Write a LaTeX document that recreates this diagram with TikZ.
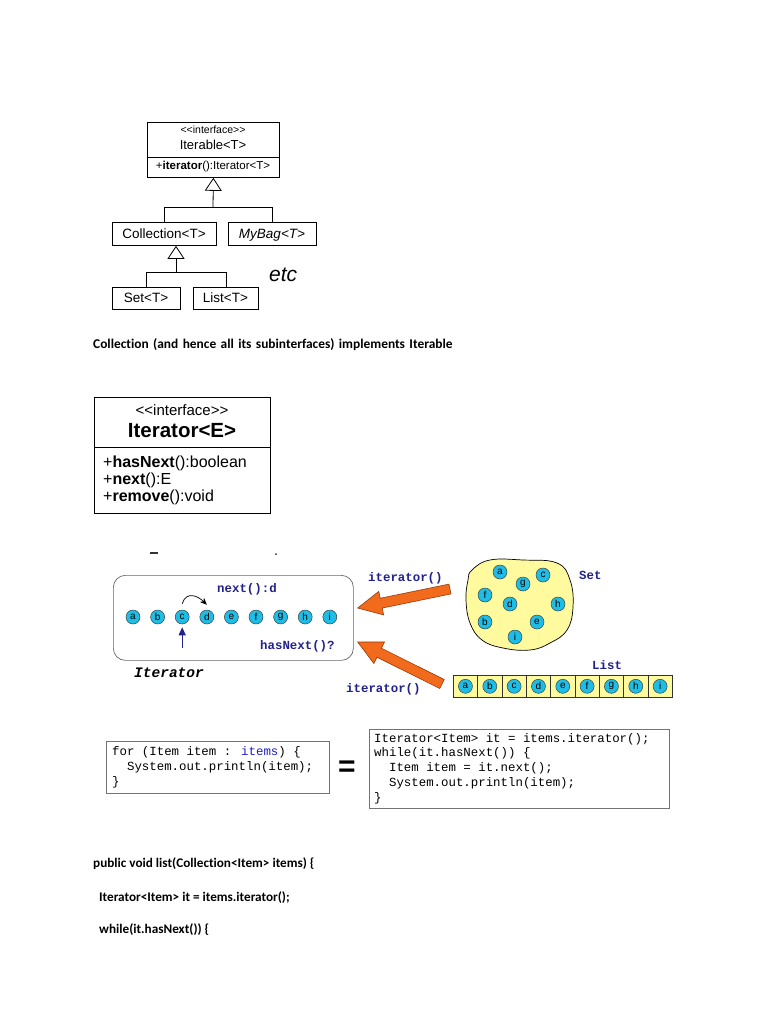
\documentclass[tikz,border=0pt]{standalone}
\usepackage{fontspec}
\setmainfont{Carlito}[Ligatures=NoCommon]
\newfontfamily\arial{Liberation Sans}
\newfontfamily\cour{Liberation Mono}
\usetikzlibrary{calc,arrows.meta}
\definecolor{ballc}{HTML}{1EBDE6}
\definecolor{navy}{HTML}{22228C}
\definecolor{setyel}{HTML}{FFFA9E}
\definecolor{orng}{HTML}{F26B1D}
\definecolor{orngd}{HTML}{9A3A08}
\definecolor{codeblue}{HTML}{2020C0}
\tikzset{
  uml/.style={draw=black, line width=0.8pt, inner sep=0pt, anchor=north west},
  umltxt/.style={inner sep=0pt, font=\arial\fontsize{13.5}{14}\selectfont},
  ball/.style={circle, draw=black!75, line width=0.5pt, fill=ballc, minimum size=14pt, inner sep=0pt, font=\arial\fontsize{10}{10}\selectfont},
  cell/.style={draw=black!80, line width=0.6pt, fill=setyel, minimum width=24.33pt, minimum height=22pt, inner sep=0pt, anchor=north west},
  body/.style={inner sep=0pt, anchor=base west, font=\fontsize{13.2}{15}\selectfont\bfseries},
  code/.style={inner sep=0pt, anchor=base west, font=\cour\fontsize{12.4}{14}\selectfont},
  lbl/.style={inner sep=0pt, text=navy, font=\cour\bfseries\fontsize{12.4}{14}\selectfont},
  codebox/.style={draw=black!55, line width=0.7pt, inner sep=0pt, anchor=north west},
  gen/.style={line width=0.8pt, -{Triangle[open, length=13pt, width=17pt]}},
}
\newcommand\fatarrow[3]{%
  \coordinate (#3h) at ($(#2)!24pt!(#1)$);
  \filldraw[fill=orng, draw=orngd, line width=0.6pt, line join=miter]
    ($(#1)!5pt!90:(#2)$) -- ($(#3h)!5pt!90:(#2)$) -- ($(#3h)!12pt!90:(#2)$) -- (#2)
    -- ($(#3h)!12pt!-90:(#2)$) -- ($(#3h)!5pt!-90:(#2)$) -- ($(#1)!5pt!-90:(#2)$) -- cycle;}
\begin{document}
\begin{tikzpicture}[x=1pt,y=-1pt]
\useasboundingbox (0,0) rectangle (768,1024);
\fill[white] (0,0) rectangle (768,1024);

% ---------- UML hierarchy ----------
\node[uml, minimum width=132pt, minimum height=55pt] (iterable) at (147,122) {};
\draw[line width=0.8pt] (147,157) -- (279,157);
\node[umltxt, anchor=base, font=\arial\fontsize{10.5}{11}\selectfont] (itl1) at (213,134) {<<interface>>};
\node[umltxt, anchor=base, font=\arial\fontsize{13}{14}\selectfont] (itl2) at (213,150) {Iterable<T>};
\node[umltxt, anchor=base, font=\arial\fontsize{11.5}{12}\selectfont] (itl3) at (213,170) {+\textbf{iterator}():Iterator<T>};

\node[uml, minimum width=104pt, minimum height=23pt] (collection) at (112,222) {};
\node[umltxt, anchor=base] (coltxt) at (164,238) {Collection<T>};
\node[uml, minimum width=88pt, minimum height=23pt] (mybag) at (228,222) {};
\node[umltxt, anchor=base] (bagtxt) at (272,238) {\itshape MyBag<T>};

\coordinate (j1) at (213,207);
\draw[line width=0.8pt] (collection.north) -- (collection.north |- j1) -- (mybag.north |- j1) -- (mybag.north);
\draw[gen] (j1) -- (iterable.south);

\node[uml, minimum width=68pt, minimum height=22pt] (set) at (112,287) {};
\node[umltxt, anchor=base] (settxt) at (146,302) {Set<T>};
\node[uml, minimum width=65pt, minimum height=22pt] (list) at (193,287) {};
\node[umltxt, anchor=base] (listtxt) at (225.5,302) {List<T>};

\coordinate (j2) at (176,272);
\draw[line width=0.8pt] (set.north) -- (set.north |- j2) -- (list.north |- j2) -- (list.north);
\draw[gen] (j2) -- (collection.south -| j2);

\node[inner sep=0pt, anchor=base west, font=\arial\itshape\fontsize{21}{22}\selectfont] (etc) at (269,281) {etc};

\node[body, font=\fontsize{13.4}{15}\selectfont\bfseries] (cap) at (93,348.5) {\spaceskip=4.4pt plus 1pt\relax Collection (and hence all its subinterfaces) implements Iterable};

% ---------- Iterator UML ----------
\node[uml, minimum width=176pt, minimum height=116pt] (iterator) at (94,397) {};
\draw[line width=0.8pt] (94,447) -- (270,447);
\node[inner sep=0pt, anchor=base, font=\arial\fontsize{15}{16}\selectfont] (ii1) at (182,415) {<<interface>>};
\node[inner sep=0pt, anchor=base, font=\arial\bfseries\fontsize{20.5}{21}\selectfont] (ii2) at (182,437.5) {Iterator<E>};
\node[inner sep=0pt, anchor=base west, font=\arial\fontsize{16}{17}\selectfont] (im1) at (103,467) {+\textbf{hasNext}():boolean};
\node[inner sep=0pt, anchor=base west, font=\arial\fontsize{16}{17}\selectfont] (im2) at (103,484) {+\textbf{next}():E};
\node[inner sep=0pt, anchor=base west, font=\arial\fontsize{16}{17}\selectfont] (im3) at (103,501) {+\textbf{remove}():void};

% ---------- Iterator illustration ----------
\fill[black!80] (150,552) rectangle (158,554);
\fill[black!80] (276,554) circle (1pt);
\node[draw=black!60, line width=0.7pt, rounded corners=12pt, minimum width=240pt, minimum height=85pt, anchor=north west, inner sep=0pt] (iterbox) at (113,575) {};
\foreach \l [count=\i] in {a,b,c,d,e,f,g,h,i}{
  \node[ball] (r\l) at ({133+24.6*(\i-1)},617) {\l};
}
\draw[line width=0.7pt, -{Stealth[length=7pt,width=6pt]}] ([yshift=6pt]rc.north) .. controls +(4,-13) and +(-9,-9) .. ([yshift=5pt]rd.north);
\node[lbl, anchor=base west] (nextlbl) at (217,592) {next():d};
\draw[navy, line width=1.1pt, -{Triangle[length=8pt,width=7pt]}] (rc.south |- 0,648) -- ([yshift=-3pt]rc.south);
\node[lbl, anchor=base west] (hnlbl) at (260,649) {hasNext()?};
\node[inner sep=0pt, anchor=base west, font=\cour\bfseries\itshape\fontsize{14.5}{15}\selectfont] (itlbl) at (134,677.5) {Iterator};

% Set blob
\draw[fill=setyel, line width=0.7pt] plot[smooth cycle, tension=0.7] coordinates {(472,570) (490,560) (523,560) (557,563) (570,580) (573,607) (567,630) (550,643) (530,650) (503,648) (482,640) (470,623) (466,600) (468,580)};
\node[ball] (sa) at (500,572) {a};
\node[ball] (sc) at (543,575) {c};
\node[ball] (sg) at (523,584) {g};
\node[ball] (sf) at (485,595) {f};
\node[ball] (sd) at (510,604) {d};
\node[ball] (sh) at (558,604) {h};
\node[ball] (sb) at (485,622) {b};
\node[ball] (se) at (537,622) {e};
\node[ball] (si) at (515,637) {i};
\node[lbl, anchor=base west] (setlbl) at (579,579) {Set};

% List
\foreach \l [count=\i] in {a,b,c,d,e,f,g,h,i}{
  \node[cell] (c\l) at ({453+24.33*(\i-1)},675) {};
  \node[ball] (l\l) at (c\l.center) {\l};
}
\node[lbl, anchor=base west] (listlbl) at (592,669) {List};

% orange arrows
\coordinate (tail1) at (450,589);
\coordinate (tip1) at ([xshift=4pt]iterbox.east |- 0,608);
\fatarrow{tail1}{tip1}{a1}
\coordinate (tail2) at (442,684);
\coordinate (tip2) at ([xshift=4pt]iterbox.east |- 0,642);
\fatarrow{tail2}{tip2}{a2}
\node[lbl, anchor=base west] (it1lbl) at (368,581) {iterator()};
\node[lbl, anchor=base west] (it2lbl) at (346,692) {iterator()};

% ---------- code boxes ----------
\node[codebox, minimum width=223pt, minimum height=52pt] (lbox) at (106,741) {};
\node[code] (lc1) at (112,755) {for (Item item : \textcolor{codeblue}{items}) \{};
\node[code] (lc2) at (112,770) {\ \ System.out.println(item);};
\node[code] (lc3) at (112,785) {\}};

\node[inner sep=0pt, anchor=base, font=\arial\bfseries\fontsize{30}{30}\selectfont] (eq) at (347,776) {=};

\node[codebox, minimum width=300pt, minimum height=79pt] (rbox) at (369,729) {};
\node[code] (rc1) at (374,742) {Iterator<Item> it = items.iterator();};
\node[code] (rc2) at (374,756.5) {while(it.hasNext()) \{};
\node[code] (rc3) at (374,771) {\ \ Item item = it.next();};
\node[code] (rc4) at (374,786) {\ \ System.out.println(item);};
\node[code] (rc5) at (374,801) {\}};

% ---------- bottom text ----------
\node[body] (b1) at (93,867.5) {public void list(Collection<Item> items) \{};
\node[body] (b2) at (99,901.5) {Iterator<Item> it = items.iterator();};
\node[body] (b3) at (99,933.5) {while(it.hasNext()) \{};
\end{tikzpicture}
\end{document}
